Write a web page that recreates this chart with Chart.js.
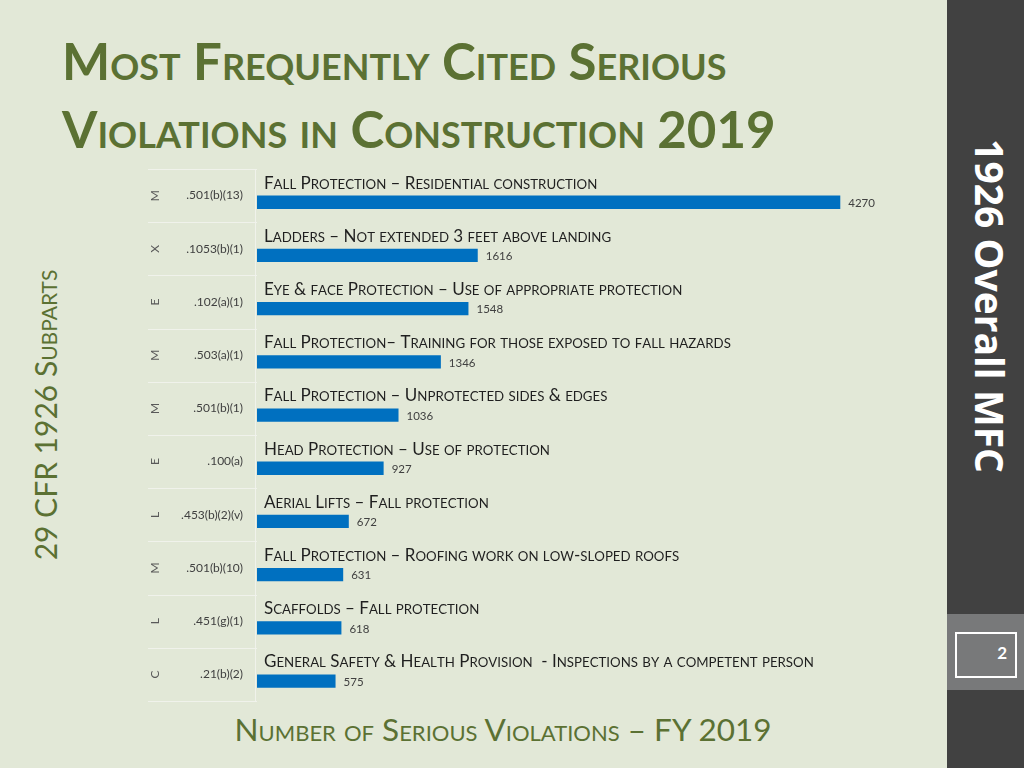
<!DOCTYPE html>
<html>
<head>
<meta charset="utf-8">
<script src="https://cdn.jsdelivr.net/npm/chart.js@4.4.1/dist/chart.umd.min.js"></script>
<style>
    html, body { margin: 0; padding: 0; }
    body { width: 1024px; height: 768px; background: #e2e8d7; position: relative; overflow: hidden; font-family: Lato, sans-serif; }
    .title { position: absolute; left: 62px; top: 27px; color: #5b7133; font-weight: 700; font-size: 51px; line-height: 68px; font-variant: small-caps; white-space: nowrap; }
    .ytitle { position: absolute; left: 45px; top: 415px; transform: translate(-50%, -50%) rotate(-90deg); color: #5b7133; font-size: 30px; font-variant: small-caps; white-space: nowrap; }
    .xtitle { position: absolute; left: 503px; top: 729px; transform: translate(-50%, -50%); color: #5b7133; font-size: 31.5px; font-variant: small-caps; white-space: nowrap; }
    .side { position: absolute; left: 947px; top: 0; width: 77px; height: 768px; background: #414141; }
    .band { position: absolute; left: 947px; top: 614px; width: 77px; height: 76px; background: #78797a; }
    .pagebox { position: absolute; left: 955px; top: 632px; width: 58px; height: 42px; border: 2px solid #fff; color: #fff; font-weight: 700; font-size: 17px; text-align: right; box-sizing: content-box; }
    .pagebox span { position: absolute; right: 8px; top: 8px; }
    .sidetext { position: absolute; left: 990px; top: 306px; transform: translate(-50%, -50%) rotate(90deg); color: #fff; font-family: "Open Sans", sans-serif; font-weight: 700; font-size: 39px; white-space: nowrap; }
    #chart { position: absolute; left: 0; top: 0; }
</style>
</head>
<body>
<div class="title">Most Frequently Cited Serious<br>Violations in Construction 2019</div>
<div class="ytitle">29 CFR 1926 Subparts</div>
<div class="xtitle">Number of Serious Violations – FY 2019</div>
<div class="side"></div>
<div class="band"></div>
<div class="pagebox"><span>2</span></div>
<div class="sidetext">1926 Overall MFC</div>
<canvas id="chart" width="940" height="768"></canvas>
<script>
var subparts = ['.501(b)(13)', '.1053(b)(1)', '.102(a)(1)', '.503(a)(1)', '.501(b)(1)', '.100(a)', '.453(b)(2)(v)', '.501(b)(10)', '.451(g)(1)', '.21(b)(2)'];
var subpartLetters = ['M', 'X', 'E', 'M', 'M', 'E', 'L', 'M', 'L', 'C'];
var descriptions = [
    'Fall Protection – Residential construction',
    'Ladders – Not extended 3 feet above landing',
    'Eye & face Protection – Use of appropriate protection',
    'Fall Protection– Training for those exposed to fall hazards',
    'Fall Protection – Unprotected sides & edges',
    'Head Protection – Use of protection',
    'Aerial Lifts – Fall protection',
    'Fall Protection – Roofing work on low-sloped roofs',
    'Scaffolds – Fall protection',
    'General Safety & Health Provision  - Inspections by a competent person'
];
var violations = [4270, 1616, 1548, 1346, 1036, 927, 672, 631, 618, 575];
var spacer = [0, 0, 0, 0, 0, 0, 0, 0, 0, 0];

// draws text with fake small caps (lower case letters as smaller capitals)
function drawSmallCaps(ctx, text, x, y, size, color) {
    var small = size * 0.78;
    ctx.save();
    ctx.fillStyle = color;
    ctx.textBaseline = 'alphabetic';
    ctx.textAlign = 'left';
    for (var i = 0; i < text.length; i++) {
        var ch = text[i];
        var isLower = ch !== ch.toUpperCase();
        ctx.font = (isLower ? small : size) + 'px Lato';
        var c = isLower ? ch.toUpperCase() : ch;
        ctx.fillText(c, x, y);
        x += ctx.measureText(c).width;
    }
    ctx.restore();
}

var labelPlugin = {
    id: 'labelPlugin',
    afterDatasetsDraw: function (chart) {
        var ctx = chart.ctx;
        var area = chart.chartArea;
        var yScale = chart.scales.y;
        var bars = chart.getDatasetMeta(1).data;

        // row separators in the category label area
        var step = (area.bottom - area.top) / subparts.length;
        ctx.save();
        ctx.strokeStyle = '#f0f2eb';
        ctx.lineWidth = 1;
        for (var i = 0; i <= subparts.length; i++) {
            var yy = Math.round(area.top + i * step) + 0.5;
            ctx.beginPath();
            ctx.moveTo(148, yy);
            ctx.lineTo(area.left, yy);
            ctx.stroke();
        }
        ctx.beginPath();
        ctx.moveTo(area.left - 1.5, area.top);
        ctx.lineTo(area.left - 1.5, area.bottom);
        ctx.stroke();
        ctx.restore();

        // outer category letters, rotated
        ctx.save();
        ctx.fillStyle = '#595959';
        ctx.font = '12px Lato';
        ctx.textAlign = 'center';
        ctx.textBaseline = 'middle';
        subpartLetters.forEach(function (letter, i) {
            var py = yScale.getPixelForValue(i);
            ctx.save();
            ctx.translate(155, py);
            ctx.rotate(-Math.PI / 2);
            ctx.fillText(letter, 0, 0);
            ctx.restore();
        });
        ctx.restore();

        bars.forEach(function (bar, i) {
            var top = bar.y - bar.height / 2;
            drawSmallCaps(ctx, descriptions[i], area.left + 7, top - 7, 17, '#1f1f1f');
            ctx.save();
            ctx.fillStyle = '#404040';
            ctx.font = '11.5px Lato';
            ctx.textAlign = 'left';
            ctx.textBaseline = 'middle';
            ctx.fillText(violations[i], bar.x + 8, bar.y + 1);
            ctx.restore();
        });
    }
};

new Chart(document.getElementById('chart'), {
    type: 'bar',
    data: {
        labels: subparts,
        datasets: [{
            label: 'spacer',
            data: spacer,
            backgroundColor: 'rgba(0,0,0,0)',
            categoryPercentage: 0.5,
            barPercentage: 1.0
        }, {
            label: 'Number of Serious Violations',
            data: violations,
            backgroundColor: '#0070c0',
            categoryPercentage: 0.5,
            barPercentage: 1.0
        }]
    },
    options: {
        indexAxis: 'y',
        responsive: false,
        animation: false,
        layout: {
            padding: { top: 169, bottom: 67, left: 130, right: 0 }
        },
        plugins: {
            legend: { display: false },
            tooltip: { enabled: false }
        },
        scales: {
            x: {
                display: false,
                min: 0,
                max: 5000
            },
            y: {
                grid: { display: false },
                border: { display: false },
                ticks: {
                    color: '#404040',
                    font: { family: 'Lato', size: 12 },
                    padding: 6
                },
                afterFit: function (scale) {
                    scale.width = 127;
                }
            }
        }
    },
    plugins: [labelPlugin]
});
</script>
</body>
</html>
